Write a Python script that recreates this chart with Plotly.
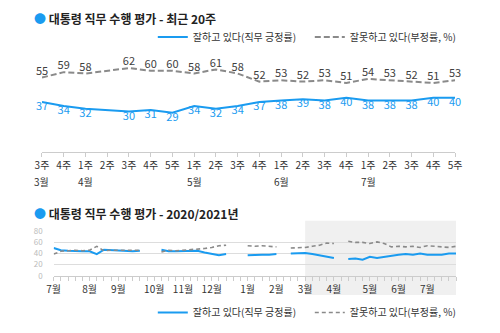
import plotly.graph_objects as go

FONT = "Noto Sans CJK KR, Noto Sans, sans-serif"
BLUE = "#1a9bf0"
GRAY = "#8a8a8a"

# ---------- Top chart: last 20 weeks ----------
recent_weeks = ["3주", "4주", "1주", "2주", "3주", "4주", "5주", "1주", "2주", "3주",
                "4주", "1주", "2주", "3주", "4주", "1주", "2주", "3주", "4주", "5주"]
recent_months = ["3월", "", "4월", "", "", "", "", "5월", "", "",
                 "", "6월", "", "", "", "7월", "", "", "", ""]
recent_pos = [37, 34, 32, None, 30, 31, 29, 34, 32, 34,
              37, 38, 39, 38, 40, 38, 38, 38, 40, 40]
recent_neg = [55, 59, 58, None, 62, 60, 60, 58, 61, 58,
              52, 53, 52, 53, 51, 54, 53, 52, 51, 53]

# ---------- Bottom chart: 2020/2021 weekly ----------
month_names = ["7월", "8월", "9월", "10월", "11월", "12월", "1월", "2월", "3월", "4월", "5월", "6월", "7월"]
weeks_per_month = [5, 4, 5, 4, 4, 5, 4, 4, 4, 5, 4, 4, 5]
early_pos = [50, 46, 45, 44, 44, 44, 39, 47, 46, 45, 45, 44, 45, None, None,
             47, 44, 44, 44, 45, 45, 42, 39, 37, 39, None, None,
             37, 38, 38, 38, 39, None, 40, 40, 41, 39]
early_neg = [39, 44, 45, 46, 45, 46, 53, 45, 46, 46, 46, 46, 46, None, None,
             43, 46, 45, 46, 46, 47, 49, 51, 54, 55, None, None,
             54, 53, 54, 53, 52, None, 50, 50, 51, 53]
full_pos = early_pos + recent_pos
full_neg = early_neg + recent_neg
shade_start_month = "3월"

names = ["잘하고 있다(직무 긍정률)", "잘못하고 있다(부정률, %)"]

n_recent = len(recent_pos)
x_recent = list(range(n_recent))
n_full = len(full_pos)
x_full = list(range(n_full))

fig = go.Figure()

fig.add_trace(go.Scatter(
    x=x_recent, y=recent_pos, mode="lines+text", name=names[0],
    text=["" if v is None else str(v) for v in recent_pos],
    textposition="bottom center", textfont=dict(color=BLUE, size=11, family=FONT),
    line=dict(color=BLUE, width=2), connectgaps=True, cliponaxis=False,
    xaxis="x", yaxis="y", legend="legend"))
fig.add_trace(go.Scatter(
    x=x_recent, y=recent_neg, mode="lines+text", name=names[1],
    text=["" if v is None else str(v) for v in recent_neg],
    textposition="top center", textfont=dict(color="#404040", size=11, family=FONT),
    line=dict(color=GRAY, width=2, dash="6px,3px"), connectgaps=True, cliponaxis=False,
    xaxis="x", yaxis="y", legend="legend"))

fig.add_trace(go.Scatter(
    x=x_full, y=full_pos, mode="lines", name=names[0],
    line=dict(color=BLUE, width=2), connectgaps=False,
    xaxis="x2", yaxis="y2", legend="legend2"))
fig.add_trace(go.Scatter(
    x=x_full, y=full_neg, mode="lines", name=names[1],
    line=dict(color=GRAY, width=1.6, dash="4px,3px"), connectgaps=False,
    xaxis="x2", yaxis="y2", legend="legend2"))

# month tick text for bottom axis
bottom_ticktext = []
month_start_index = {}
idx = 0
for m, w in zip(month_names, weeks_per_month):
    for k in range(w):
        bottom_ticktext.append(m if k == 0 else "")
    month_start_index.setdefault(m, []).append(idx)
    idx += w
shade_x0 = month_start_index[shade_start_month][-1]

W, H = 500, 333
def px(xp):
    return xp / W
def py(yp):
    return (H - yp) / H

annotations = [
    dict(text=f"<span style='color:{BLUE}'>●</span> <b>대통령 직무 수행 평가 - 최근 20주</b>",
         x=px(26), y=py(13), xref="paper", yref="paper", xanchor="left", yanchor="middle",
         showarrow=False, font=dict(size=12, color="#222", family=FONT)),
    dict(text=f"<span style='color:{BLUE}'>●</span> <b>대통령 직무 수행 평가 - 2020/2021년</b>",
         x=px(26), y=py(215), xref="paper", yref="paper", xanchor="left", yanchor="middle",
         showarrow=False, font=dict(size=12, color="#222", family=FONT)),
]
for i, m in enumerate(recent_months):
    if m:
        annotations.append(dict(text=m, x=i, y=py(182), xref="x", yref="paper",
                                xanchor="center", yanchor="middle", showarrow=False,
                                font=dict(size=10, color="#333", family=FONT)))

legend_style = dict(orientation="h", xanchor="left", yanchor="middle",
                    font=dict(size=10, color="#333", family=FONT),
                    bgcolor="rgba(0,0,0,0)", itemwidth=30, entrywidth=112)

fig.update_layout(
    width=W, height=H, margin=dict(l=0, r=0, t=0, b=0),
    paper_bgcolor="white", plot_bgcolor="rgba(0,0,0,0)",
    font=dict(family=FONT, color="#333"),
    xaxis=dict(domain=[px(36), px(461)], range=[0, n_recent - 1], tickmode="array",
               tickvals=x_recent, ticktext=recent_weeks, showgrid=False, zeroline=False,
               showline=True, linecolor="#cccccc", linewidth=1, ticks="outside",
               ticklen=4, tickcolor="#cccccc", tickfont=dict(size=10, color="#333"),
               anchor="y"),
    yaxis=dict(domain=[py(151), py(53)], range=[0, 70], visible=False, anchor="x"),
    xaxis2=dict(domain=[px(48), px(462)], range=[0, n_full - 1], tickmode="array",
                tickvals=x_full, ticktext=bottom_ticktext, showgrid=False, zeroline=False,
                showline=True, linecolor="#cccccc", linewidth=1, ticks="outside",
                ticklen=4, tickcolor="#cccccc", tickfont=dict(size=10, color="#333"),
                anchor="y2"),
    yaxis2=dict(domain=[py(279), py(233)], range=[0, 80], tickvals=[0, 20, 40, 60, 80],
                showgrid=True, gridcolor="#dddddd", gridwidth=1, zeroline=False,
                showline=False, tickfont=dict(size=8, color="#bbbbbb"),
                ticklabelstandoff=10, anchor="x2"),
    legend=dict(legend_style, x=px(150), y=py(32)),
    legend2=dict(legend_style, x=px(150), y=py(317)),
    annotations=annotations,
    shapes=[dict(type="rect", xref="x2", yref="paper", x0=shade_x0, x1=n_full - 1 + 0.1,
                 y0=py(299), y1=py(222), fillcolor="#f0f0f0", line=dict(width=0),
                 layer="below")],
)

fig.write_html("out.html")
